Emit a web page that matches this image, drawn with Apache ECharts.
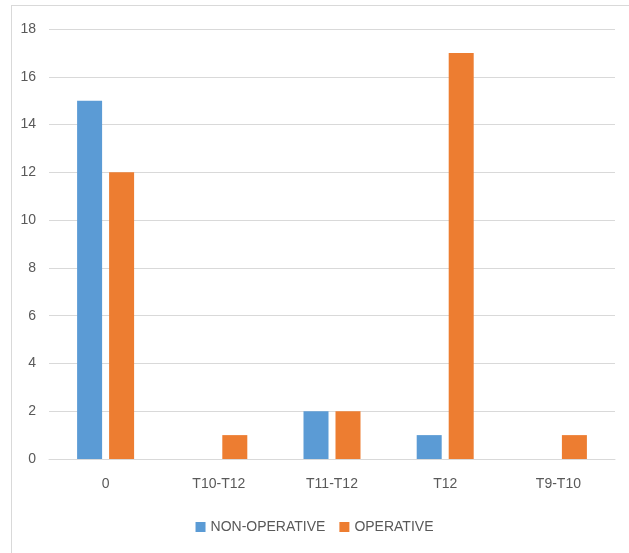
<!DOCTYPE html>
<html>
<head>
<meta charset="utf-8">
<script src="https://cdn.jsdelivr.net/npm/echarts@6/dist/echarts.min.js"></script>
<style>
  html, body { margin: 0; padding: 0; background: #fff; }
  #frame { position: absolute; left: 11px; top: 5px; width: 640px; height: 560px; border: 1px solid #d9d9d9; box-sizing: border-box; }
  #chart { position: absolute; left: 0; top: 0; width: 629px; height: 553px; }
</style>
</head>
<body>
<div id="frame"></div>
<div id="chart"></div>
<script>
// Level categories and counts per treatment group
const categories = ['0', 'T10-T12', 'T11-T12', 'T12', 'T9-T10'];
const nonOperative = [15, 0, 2, 1, 0];
const operative = [12, 1, 2, 17, 1];
const yTicks = { min: 0, max: 18, interval: 2 };

const font = '"Liberation Sans Narrow", "Liberation Sans", sans-serif';
const chart = echarts.init(document.getElementById('chart'), null, { renderer: 'canvas' });
chart.setOption({
  animation: false,
  textStyle: { fontFamily: font },
  grid: { left: 49, right: 14, top: 29, bottom: 94, containLabel: false },
  legend: {
    bottom: 14,
    left: 'center',
    itemWidth: 10,
    itemHeight: 10,
    itemGap: 14,
    icon: 'rect',
    textStyle: { color: '#595959', fontSize: 14, fontFamily: font },
    data: ['NON-OPERATIVE', 'OPERATIVE']
  },
  xAxis: {
    type: 'category',
    data: categories,
    axisLine: { lineStyle: { color: '#d9d9d9' } },
    axisTick: { show: false },
    axisLabel: { color: '#595959', fontSize: 14, margin: 18, fontFamily: font }
  },
  yAxis: {
    type: 'value',
    min: yTicks.min,
    max: yTicks.max,
    interval: yTicks.interval,
    axisLine: { show: false },
    axisTick: { show: false },
    splitLine: { lineStyle: { color: '#d9d9d9' } },
    axisLabel: { color: '#595959', fontSize: 14, margin: 13, fontFamily: font }
  },
  series: [
    {
      name: 'NON-OPERATIVE',
      type: 'bar',
      data: nonOperative,
      barWidth: 25,
      barGap: '28%',
      itemStyle: { color: '#5B9BD5' }
    },
    {
      name: 'OPERATIVE',
      type: 'bar',
      data: operative,
      barWidth: 25,
      itemStyle: { color: '#ED7D31' }
    }
  ]
});
</script>
</body>
</html>
